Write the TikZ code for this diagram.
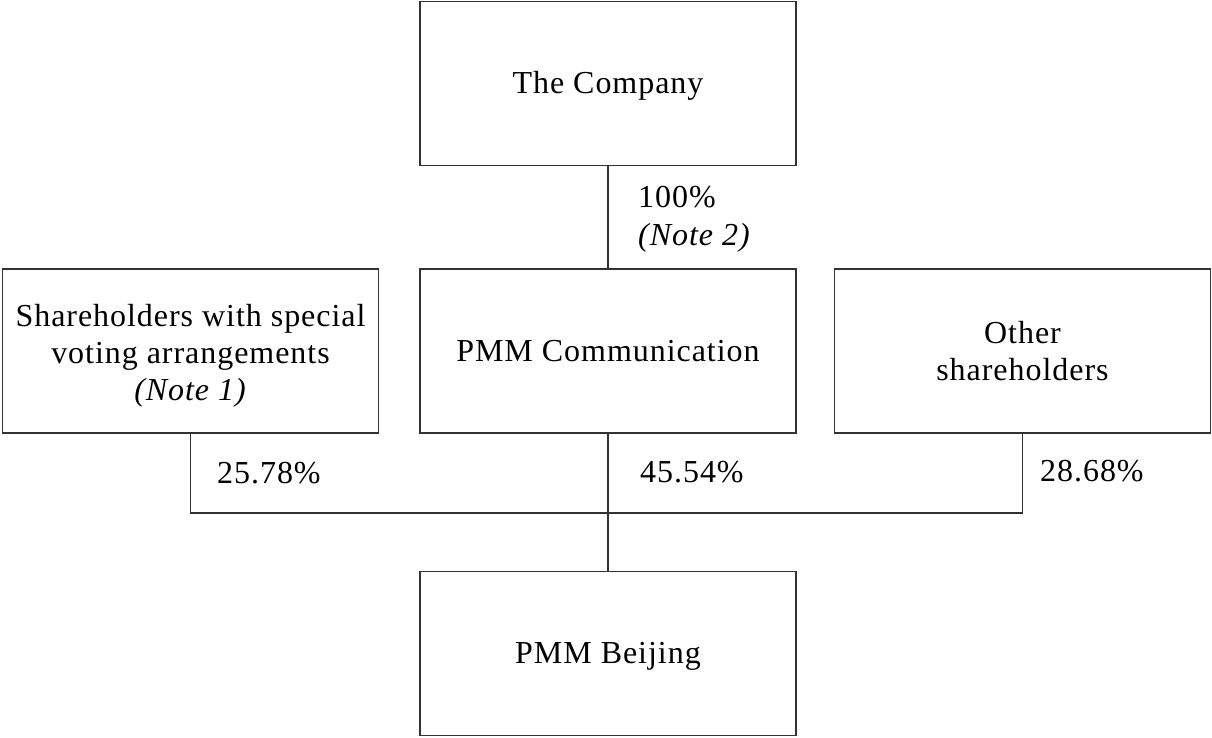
\documentclass[tikz,border=0pt]{standalone}
\usepackage{fontspec}
\setmainfont{Liberation Serif}[LetterSpace=3]
\begin{document}
\begin{tikzpicture}[x=1pt,y=-1pt,
  box/.style={draw=black!80, line width=1.6pt, minimum width=376pt, minimum height=164pt, align=center, inner sep=0pt, font=\fontsize{32}{37}\selectfont},
  lbl/.style={anchor=base west, inner sep=0pt, font=\fontsize{32}{38}\selectfont},
  conn/.style={draw=black!80, line width=1.6pt}]
\useasboundingbox (0,0) rectangle (1212,737);
\node[box] (co) at (608,83.5) {\raisebox{-2pt}[\height][\depth]{The Company}};
\node[box] (sp) at (190.5,351) {\raisebox{-5pt}[\height][\depth]{\begin{tabular}{@{}c@{}}Shareholders with special\\voting arrangements\\\textit{(Note 1)}\end{tabular}}};
\node[box] (pc) at (608,351) {PMM Communication};
\node[box] (ot) at (1022.5,351) {Other\\shareholders};
\node[box] (pb) at (608,653.5) {\raisebox{-3pt}[\height][\depth]{PMM Beijing}};
\coordinate (j) at (608,513);
\draw[conn] (co.south) -- (pc.north);
\draw[conn] (pc.south) -- (pb.north);
\draw[conn] (sp.south) |- (j);
\draw[conn] (ot.south) |- (j);
\node[lbl] (l100) at (638,207) {100\%};
\node[lbl] (n2) at (638,245) {\textit{(Note 2)}};
\node[lbl] (l1) at (217,483) {25.78\%};
\node[lbl] (l2) at (640,482) {45.54\%};
\node[lbl] (l3) at (1040,481) {28.68\%};
\end{tikzpicture}
\end{document}
